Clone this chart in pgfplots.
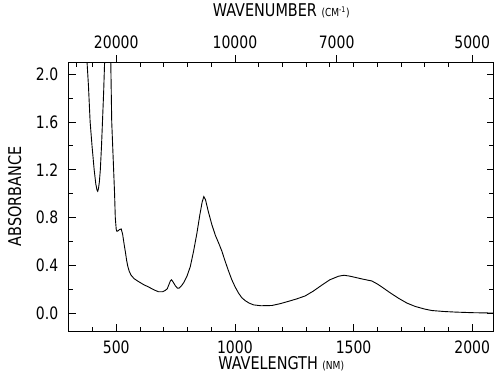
\documentclass[border=0pt]{standalone}
\usepackage{fontspec}
\setmainfont[FakeStretch=0.82]{DejaVu Sans}
\usepackage{pgfplots}
\pgfplotsset{compat=1.18}
\pgfplotstableread{
x y
375 2.25
377 2.1
383 1.9
390 1.6
398 1.4
407 1.2
414 1.08
419 1.03
422 1.02
425 1.04
429 1.1
433 1.2
438 1.4
442 1.6
447 1.85
451 2.1
477 2.1
481 1.6
485 1.4
489 1.2
493 1.0
496 0.8
500 0.70
503 0.685
508 0.69
514 0.70
521 0.705
527 0.66
533 0.58
538 0.52
544 0.44
549 0.39
555 0.35
562 0.32
575 0.29
594 0.265
615 0.24
636 0.22
660 0.195
678 0.18
695 0.18
706 0.19
715 0.205
722 0.24
728 0.27
733 0.28
740 0.26
749 0.23
758 0.21
765 0.21
775 0.23
784 0.255
798 0.31
812 0.39
826 0.52
840 0.67
852 0.82
862 0.93
869 0.975
876 0.95
888 0.85
903 0.74
918 0.65
933 0.58
945 0.52
958 0.44
972 0.36
987 0.28
1001 0.22
1015 0.17
1029 0.13
1044 0.105
1060 0.085
1079 0.07
1110 0.063
1156 0.065
1190 0.08
1226 0.10
1260 0.12
1296 0.145
1330 0.185
1366 0.235
1400 0.28
1437 0.31
1460 0.318
1485 0.31
1507 0.30
1540 0.285
1577 0.27
1600 0.245
1619 0.22
1655 0.17
1690 0.125
1725 0.085
1760 0.057
1800 0.035
1830 0.023
1880 0.015
1929 0.01
2000 0.005
2088 0.002
}\spectrum
\begin{document}
\begin{tikzpicture}
\pgfplotsset{
  common/.style={
    scale only axis, width=423pt, height=268pt,
    xmin=300, xmax=2090, ymin=-0.15, ymax=2.1,
    tick style={black, line width=0.7pt},
    axis line style={line width=0.8pt},
    major tick length=7pt, minor tick length=4.5pt,
    tick label style={font=\fontsize{17}{19}\selectfont},
    label style={font=\fontsize{17.5}{19}\selectfont},
    /pgf/number format/assume math mode=true,
  }
}
\begin{axis}[common,
  xtick={500,1000,1500,2000},
  minor xtick={400,600,700,800,900,1100,1200,1300,1400,1600,1700,1800,1900},
  xtick pos=lower,
  ytick={0,0.4,0.8,1.2,1.6,2.0},
  minor ytick={0.2,0.6,1.0,1.4,1.8},
  ytick pos=both,
  yticklabel style={xshift=-7pt, /pgf/number format/.cd, fixed, fixed zerofill, precision=1},
  xticklabel style={yshift=-6pt, /pgf/number format/.cd, 1000 sep={}},
  xlabel={WAVELENGTH {\fontsize{11}{13}\selectfont (NM)}},
  ylabel={ABSORBANCE},
  xlabel shift={-4pt},
  ylabel shift={3pt},
  ylabel style={inner ysep=8pt},
]
\addplot[black, line width=0.9pt] table[x=x, y=y] {\spectrum};
\end{axis}
\begin{axis}[common,
  axis x line*=top, axis y line=none,
  xtick={500,1000,1428.571,2000},
  xticklabels={20000,10000,7000,5000},
  minor xtick={333.3,400,600,700,800,900,1100,1200,1300,1400,1500,1600,1700,1800,1900},
  major tick style={yshift=7pt},
  xticklabel style={yshift=10pt},
  xlabel={WAVENUMBER {\fontsize{11}{13}\selectfont (CM\textsuperscript{-1})}},
  xlabel shift={11pt},
]
\end{axis}
\end{tikzpicture}
\end{document}
